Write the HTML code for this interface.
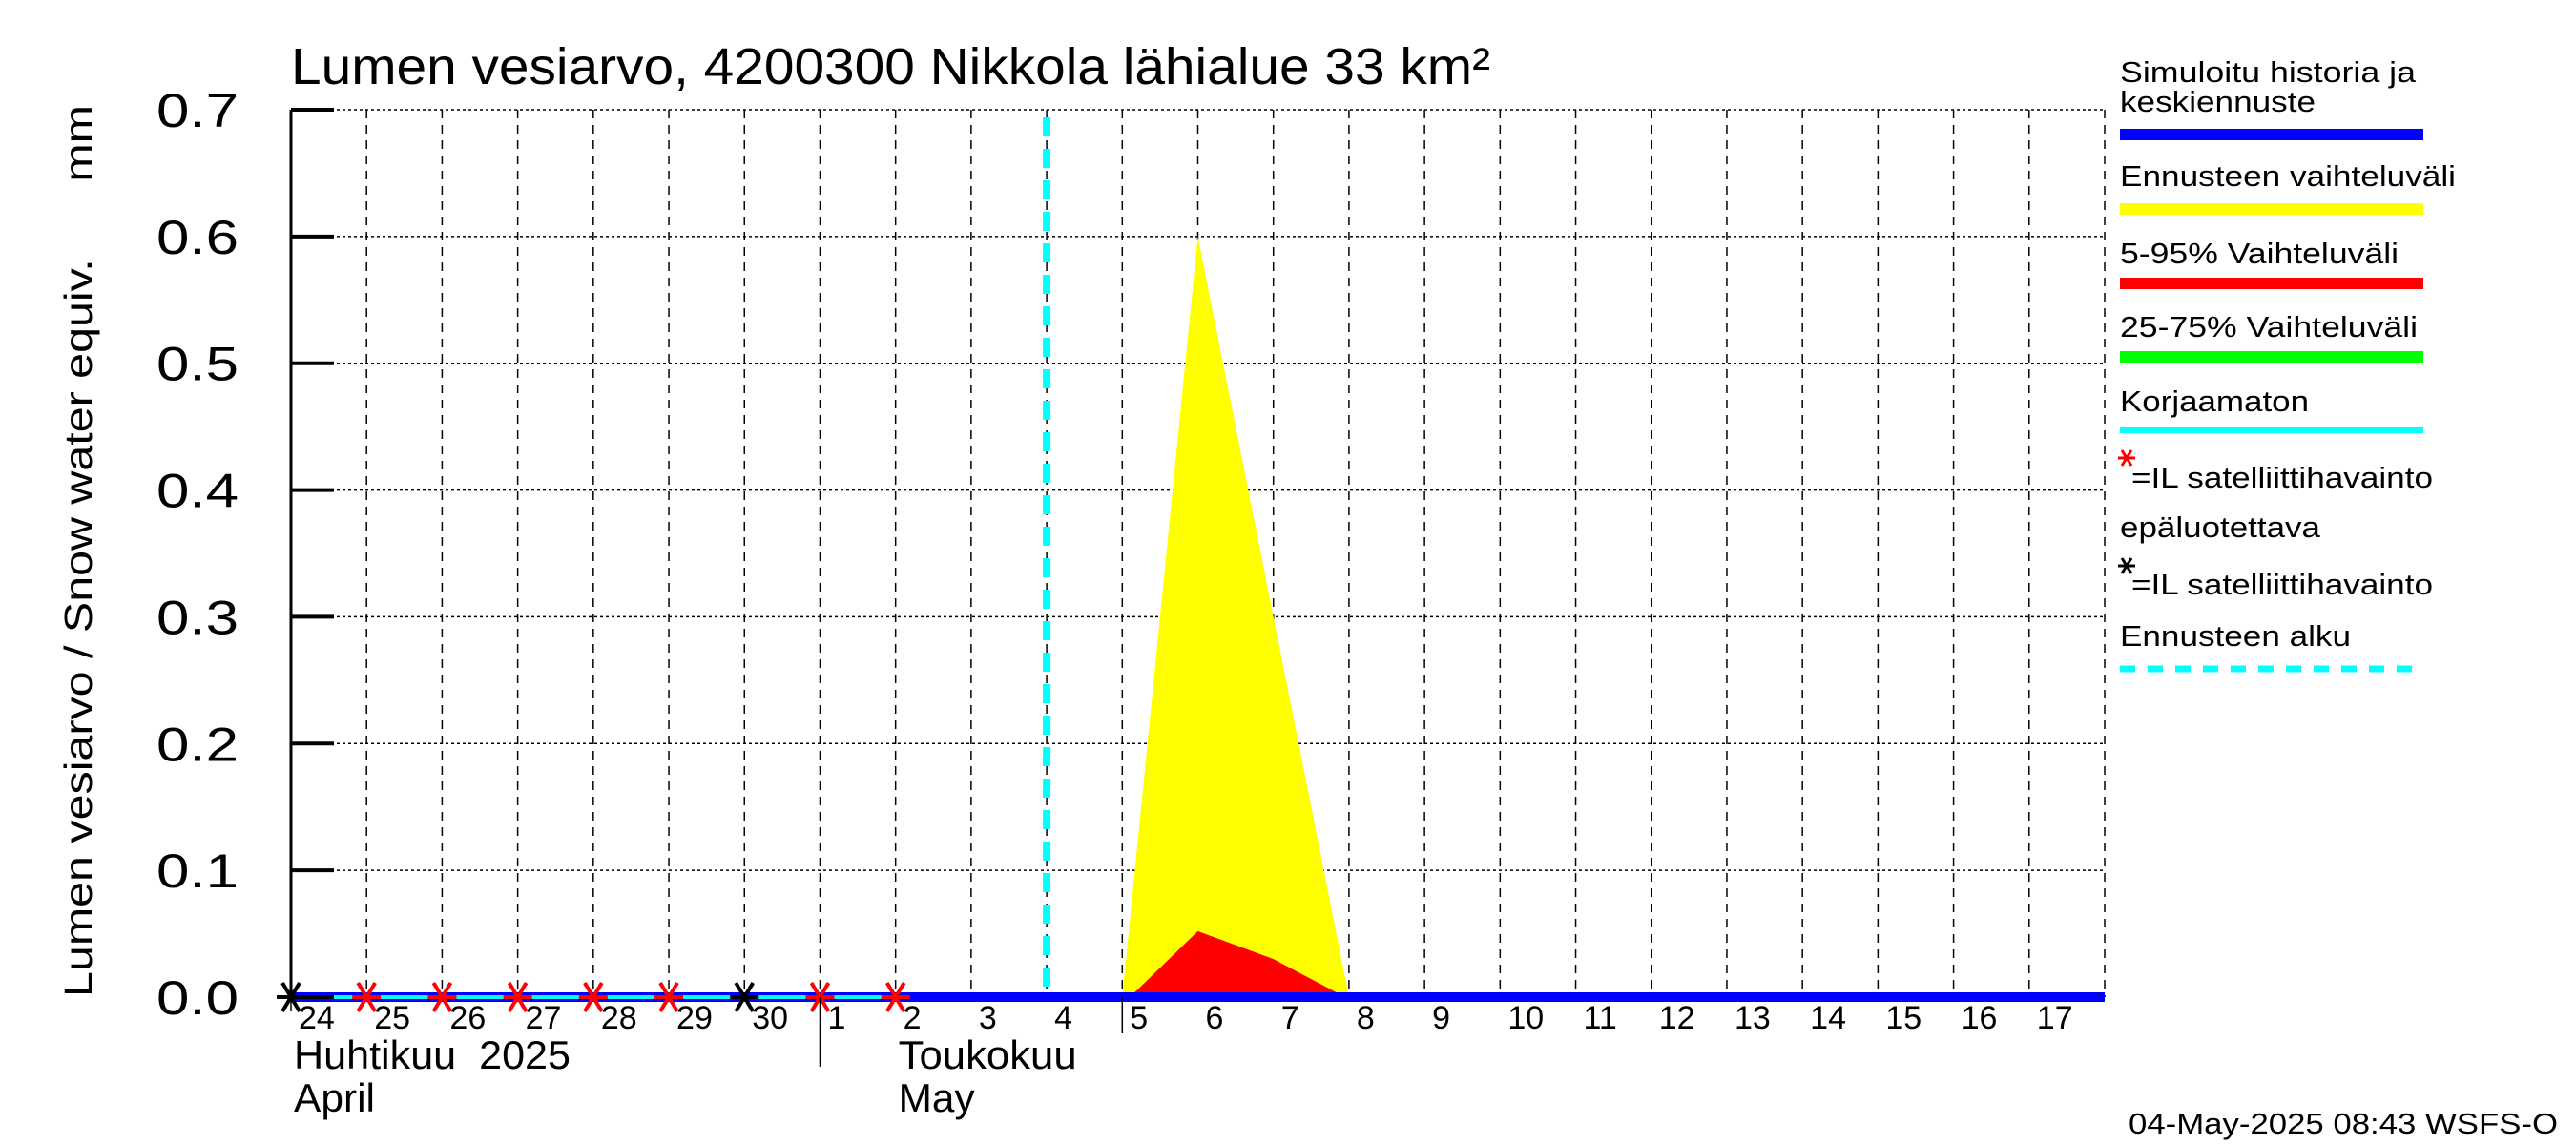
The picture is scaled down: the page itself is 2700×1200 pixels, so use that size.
<!DOCTYPE html>
<html><head><meta charset="utf-8"><style>
html,body{margin:0;padding:0;background:#fff}
svg{display:block}
text{font-family:"Liberation Sans",Arial,sans-serif;fill:#000;white-space:pre}
</style></head><body>
<svg id="chart" width="2700" height="1200" viewBox="0 0 2700 1200" xmlns="http://www.w3.org/2000/svg">
<g id="grid"></g>
<g id="series"></g>
<g id="axes"></g>
<text x="305" y="88" font-size="54" textLength="1257" lengthAdjust="spacingAndGlyphs">Lumen vesiarvo, 4200300 Nikkola lähialue 33 km²</text>
<text transform="translate(96,1045) rotate(-90)" font-size="41" textLength="935" lengthAdjust="spacingAndGlyphs">Lumen vesiarvo / Snow water equiv.      mm</text>
<g id="legend" font-size="31">
<text x="2222" y="86" textLength="310" lengthAdjust="spacingAndGlyphs">Simuloitu historia ja</text>
<text x="2222" y="117" textLength="205" lengthAdjust="spacingAndGlyphs">keskiennuste</text>
<rect x="2222" y="135" width="318" height="12" fill="#0000ff"/>
<text x="2222" y="195" textLength="352" lengthAdjust="spacingAndGlyphs">Ennusteen vaihteluväli</text>
<rect x="2222" y="213" width="318" height="12" fill="#ffff00"/>
<text x="2222" y="276" textLength="292" lengthAdjust="spacingAndGlyphs">5-95% Vaihteluväli</text>
<rect x="2222" y="291" width="318" height="12" fill="#ff0000"/>
<text x="2222" y="353" textLength="312" lengthAdjust="spacingAndGlyphs">25-75% Vaihteluväli</text>
<rect x="2222" y="368" width="318" height="12" fill="#00ff00"/>
<text x="2222" y="431" textLength="198" lengthAdjust="spacingAndGlyphs">Korjaamaton</text>
<rect x="2222" y="448" width="318" height="6" fill="#00ffff"/>
<g stroke="#ff0000" stroke-width="3">
<line x1="2220" y1="480" x2="2238" y2="480"/><line x1="2224" y1="472" x2="2234" y2="488"/><line x1="2234" y1="472" x2="2224" y2="488"/></g>
<text x="2234" y="511" textLength="316" lengthAdjust="spacingAndGlyphs">=IL satelliittihavainto</text>
<text x="2222" y="563" textLength="210" lengthAdjust="spacingAndGlyphs">epäluotettava</text>
<g stroke="#000" stroke-width="3">
<line x1="2220" y1="593" x2="2238" y2="593"/><line x1="2224" y1="585" x2="2234" y2="601"/><line x1="2234" y1="585" x2="2224" y2="601"/></g>
<text x="2234" y="623" textLength="316" lengthAdjust="spacingAndGlyphs">=IL satelliittihavainto</text>
<text x="2222" y="677" textLength="242" lengthAdjust="spacingAndGlyphs">Ennusteen alku</text>
<line x1="2222" y1="701" x2="2540" y2="701" stroke="#00ffff" stroke-width="7" stroke-dasharray="16,13"/>
</g>
<text x="2681" y="1188" font-size="31" text-anchor="end" textLength="450" lengthAdjust="spacingAndGlyphs">04-May-2025 08:43 WSFS-O</text>
</svg>
<script>
const dayLabels = ["24","25","26","27","28","29","30","1","2","3","4","5","6","7","8","9","10","11","12","13","14","15","16","17"];
const yTicks = [0,0.1,0.2,0.3,0.4,0.5,0.6,0.7];
const yTickLabels = ["0.0","0.1","0.2","0.3","0.4","0.5","0.6","0.7"];
const rangeX = [11,12,14];
const rangeMax = [0,0.6,0];
const p95X = [11.1,12,13,13.95];
const p95Max = [0,0.052,0.03,0];
const redObsDays = [1,2,3,4,5,7,8];
const blackObsDays = [0,6];
const forecastStartDay = 10;
const uncorrectedEndDay = 8;

const NS="http://www.w3.org/2000/svg";
const X0=305,X1=2206,Y0=1045,YT=115,NDAYS=24;
const xs=d=>X0+(X1-X0)*d/NDAYS;
const ys=v=>Y0-(Y0-YT)*v/0.7;
function mk(tag,attrs,parent){const e=document.createElementNS(NS,tag);for(const k in attrs)e.setAttribute(k,attrs[k]);parent.appendChild(e);return e;}
const grid=document.getElementById('grid'),series=document.getElementById('series'),axes=document.getElementById('axes');

yTicks.forEach((v,i)=>{
  const l=mk('line',{x1:X0,x2:X1,y1:ys(v),y2:ys(v),stroke:'#000','stroke-width':1.5,'stroke-dasharray':'3,3'},grid);
  
  
  const t=mk('line',{x1:X0,x2:X0+45,y1:ys(v),y2:ys(v),stroke:'#000','stroke-width':4},axes);
  
  
  const tx=mk('text',{x:250,y:ys(v)+18,'font-size':50,'text-anchor':'end',textLength:86,lengthAdjust:'spacingAndGlyphs'},axes);
  tx.textContent=yTickLabels[i];
  
  
});
for(let d=1;d<=NDAYS;d++){
  const l=mk('line',{x1:xs(d),x2:xs(d),y1:YT,y2:Y0,stroke:'#000','stroke-width':1.5,'stroke-dasharray':'9,7'},grid);
  
  
}
dayLabels.forEach((s,d)=>{
  const t=mk('text',{x:xs(d)+8,y:1078,'font-size':34},axes);
  t.textContent=s;
  
  
});
const ax=mk('line',{x1:X0,x2:X0,y1:YT,y2:Y0,stroke:'#000','stroke-width':3},axes);


[[0,1060],[7,1118],[11,1083]].forEach(([d,y2])=>{
  const l=mk('line',{x1:xs(d),x2:xs(d),y1:Y0,y2:y2,stroke:'#000','stroke-width':1.5},axes);
  
  
});
[["Huhtikuu  2025",0,1120,290],["April",0,1165,85],["Toukokuu",8,1120,187],["May",8,1165,80]].forEach(([s,d,y,w])=>{
  const t=mk('text',{x:xs(d)+3,y:y,'font-size':42,textLength:w,lengthAdjust:'spacingAndGlyphs'},axes);
  t.textContent=s;
  
  
});

let pts=rangeX.map((d,i)=>xs(d)+','+ys(rangeMax[i])).join(' ');
const yp=mk('polygon',{points:pts,fill:'#ffff00'},series);


pts=p95X.map((d,i)=>xs(d)+','+ys(p95Max[i])).join(' ');
const rp=mk('polygon',{points:pts,fill:'#ff0000'},series);


const bl=mk('line',{x1:X0,x2:X1,y1:ys(0),y2:ys(0),stroke:'#0000ff','stroke-width':10},series);


const cl=mk('line',{x1:X0,x2:xs(uncorrectedEndDay),y1:ys(0),y2:ys(0),stroke:'#00ffff','stroke-width':4},series);


const fl=mk('line',{x1:xs(forecastStartDay),x2:xs(forecastStartDay),y1:123,y2:Y0,stroke:'#00ffff','stroke-width':8,'stroke-dasharray':'20,13'},series);


function star(d,color,name){
  const g=mk('g',{stroke:color,'stroke-width':4},series);
  const cx=xs(d),cy=ys(0),r=15;
  mk('line',{x1:cx-r,y1:cy,x2:cx+r,y2:cy},g);
  mk('line',{x1:cx-r*0.6,y1:cy-r,x2:cx+r*0.6,y2:cy+r},g);
  mk('line',{x1:cx+r*0.6,y1:cy-r,x2:cx-r*0.6,y2:cy+r},g);
  
  
}
redObsDays.forEach(d=>star(d,'#ff0000','satellite-obs-marker'));
blackObsDays.forEach(d=>star(d,'#000000','unreliable-obs-marker'));
</script>
</body></html>
